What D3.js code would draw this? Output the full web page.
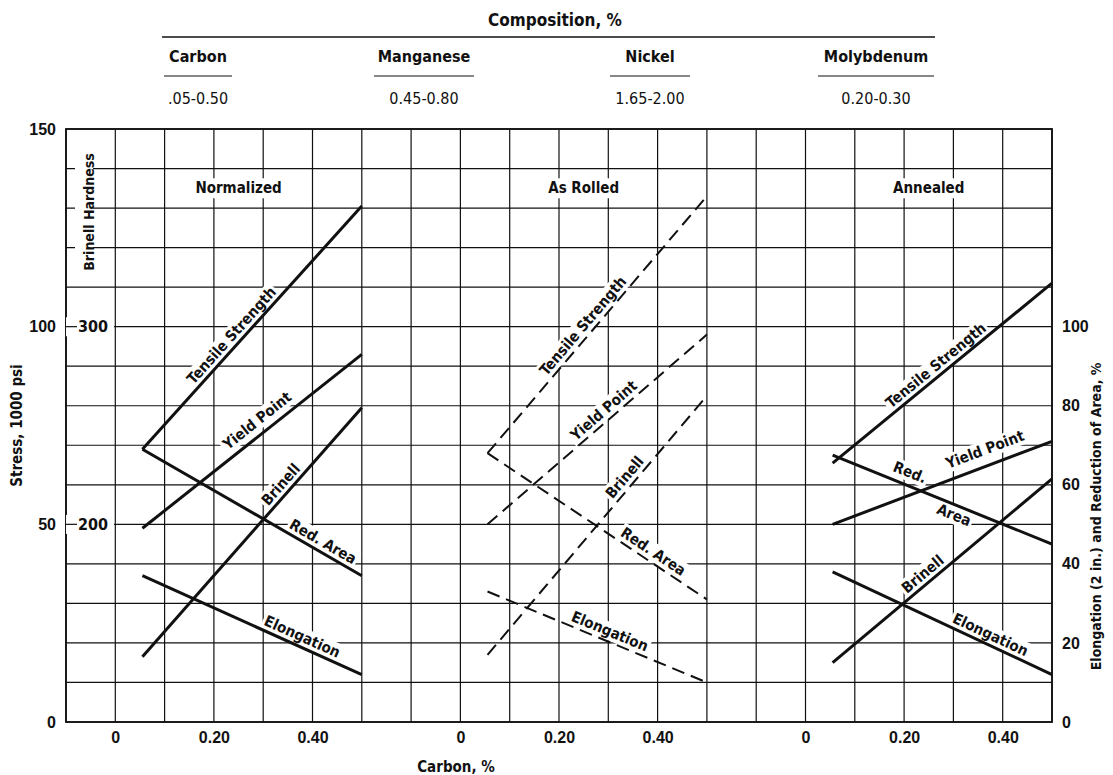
<!DOCTYPE html>
<html>
<head>
<meta charset="utf-8">
<script src="https://cdn.jsdelivr.net/npm/d3@7"></script>
<style>
  body { margin: 0; background: #fff; }
  svg { font-family: "Liberation Sans Narrow", "DejaVu Sans Condensed", "Roboto", sans-serif; font-weight: bold; }
  text { fill: #111; }
</style>
</head>
<body>
<div id="chart"></div>
<script>
// Data (stress in 1000 psi, Brinell in HB, elongation / red. area in %)
var panels = ["Normalized", "As Rolled", "Annealed"];
var panelDomains = [[-0.1, 0.5], [-0.2, 0.5], [-0.2, 0.5]];
var carbonRange = [0.055, 0.50];
var tensile    = [[69, 130.5], [68, 133], [65.5, 111]];
var yieldPoint = [[49, 93], [50, 98], [50, 71]];
var brinell    = [[133, 259], [134, 265], [130, 223]];
var redArea    = [[69, 37], [68, 31], [67.5, 45]];
var elongation = [[37, 12], [33, 10], [38, 12]];

var carbonTicks = [0, 0.20, 0.40];
var stressTicks = [0, 50, 100, 150];
var brinellTicks = [200, 300];
var pctTicks = [0, 20, 40, 60, 80, 100];

var elements = ["Carbon", "Manganese", "Nickel", "Molybdenum"];
var ranges = [".05-0.50", "0.45-0.80", "1.65-2.00", "0.20-0.30"];

// Canvas
var W = 1113, H = 775;
var plot = { left: 66, right: 1052, top: 129, bottom: 722 };

var svg = d3.select("#chart").append("svg")
    .attr("width", W)
    .attr("height", H);

var col = d3.scaleLinear().domain([0, 20]).range([plot.left, plot.right]);
var colSpans = [[0, 6], [6, 13], [13, 20]];
var xs = panelDomains.map(function(d, i) {
  return d3.scaleLinear().domain(d).range([col(colSpans[i][0]), col(colSpans[i][1])]);
});
var y = d3.scaleLinear().domain([0, 150]).range([plot.bottom, plot.top]);
var yPct = d3.scaleLinear().domain([0, 150]).range([plot.bottom, plot.top]);
var yHB = d3.scaleLinear().domain([100, 400]).range([plot.bottom, plot.top]);

// Header: composition table
var head = svg.append("g");
head.append("text").attr("x", 555).attr("y", 26).attr("text-anchor", "middle")
    .style("font-size", "17px").text("Composition,  %");
head.append("line").attr("x1", 162).attr("x2", 935).attr("y1", 37).attr("y2", 37)
    .attr("stroke", "#111").attr("stroke-width", 1.4);
var hx = d3.scalePoint().domain(elements).range([198, 876]);
var underW = { Carbon: 68, Manganese: 100, Nickel: 80, Molybdenum: 116 };
elements.forEach(function(e, i) {
  head.append("text").attr("x", hx(e)).attr("y", 62).attr("text-anchor", "middle")
      .style("font-size", "16px").text(e);
  head.append("line").attr("x1", hx(e) - underW[e] / 2).attr("x2", hx(e) + underW[e] / 2)
      .attr("y1", 76).attr("y2", 76).attr("stroke", "#111").attr("stroke-width", 1.1);
  head.append("text").attr("x", hx(e)).attr("y", 104).attr("text-anchor", "middle")
      .style("font-size", "16px").style("font-weight", "normal").text(ranges[i]);
});

// Grid
var grid = svg.append("g").attr("stroke", "#111").attr("stroke-width", 1.2);
grid.selectAll(".h").data(d3.range(0, 151, 10)).enter().append("line")
    .attr("x1", plot.left).attr("x2", plot.right)
    .attr("y1", function(d) { return y(d); }).attr("y2", function(d) { return y(d); });
grid.selectAll(".v").data(d3.range(0, 21)).enter().append("line")
    .attr("x1", function(d) { return col(d); }).attr("x2", function(d) { return col(d); })
    .attr("y1", plot.top).attr("y2", plot.bottom);
svg.append("rect").attr("x", plot.left).attr("y", plot.top)
    .attr("width", plot.right - plot.left).attr("height", plot.bottom - plot.top)
    .attr("fill", "none").attr("stroke", "#111").attr("stroke-width", 1.8);

// helper: text with white box behind it
function boxed(g, txt, size, anchor) {
  var t = g.append("text").attr("text-anchor", anchor || "middle")
      .style("font-size", size + "px").text(txt);
  var b = t.node().getBBox();
  g.insert("rect", "text").attr("x", b.x - 3).attr("y", b.y - 1)
      .attr("width", b.width + 6).attr("height", b.height + 2).attr("fill", "#fff");
  return t;
}

// Panel titles
panels.forEach(function(p, i) {
  var g = svg.append("g").attr("transform", "translate(" + xs[i](0.25) + "," + (y(135) + 5) + ")");
  boxed(g, p, 15);
});

// Brinell hardness axis (inside left)
var bl = svg.append("g").attr("transform", "translate(" + (plot.left + 23) + "," + y(129) + ") rotate(-90)");
boxed(bl, "Brinell Hardness", 14).attr("dy", "0.35em");
brinellTicks.forEach(function(b) {
  var g = svg.append("g").attr("transform", "translate(" + (plot.left + 12) + "," + yHB(b) + ")");
  var t = g.append("text").attr("dy", "0.35em").style("font-size", "16px").text(b);
  var bb = t.node().getBBox();
  g.insert("rect", "text").attr("x", -12).attr("y", bb.y).attr("width", bb.width + 18)
      .attr("height", bb.height).attr("fill", "#fff");
  g.append("line").attr("x1", -12).attr("x2", -1).attr("stroke", "#111").attr("stroke-width", 1.2);
});

// Left axis
var yAxis = svg.append("g").attr("transform", "translate(" + (plot.left - 8) + ",0)")
    .call(d3.axisLeft(y).tickValues(stressTicks).tickSize(0).tickPadding(2));
yAxis.select(".domain").remove();
yAxis.selectAll("text").style("font-size", "16px").style("font-family", null).style("font-weight", "bold");
svg.append("text").attr("transform", "translate(22," + ((plot.top + plot.bottom) / 2) + ") rotate(-90)")
    .attr("text-anchor", "middle").style("font-size", "15px").text("Stress, 1000 psi");

// Right axis
var rAxis = svg.append("g").attr("transform", "translate(" + (plot.right + 8) + ",0)")
    .call(d3.axisRight(yPct).tickValues(pctTicks).tickSize(0).tickPadding(2));
rAxis.select(".domain").remove();
rAxis.selectAll("text").style("font-size", "16px").style("font-family", null).style("font-weight", "bold");
svg.append("text").attr("transform", "translate(1101," + yPct(52) + ") rotate(-90)")
    .attr("text-anchor", "middle").style("font-size", "14px")
    .text("Elongation (2 in.) and Reduction of Area, %");

// Bottom axes
xs.forEach(function(x) {
  var a = svg.append("g").attr("transform", "translate(0," + (plot.bottom + 8) + ")")
      .call(d3.axisBottom(x).tickValues(carbonTicks).tickSize(0).tickPadding(2)
        .tickFormat(function(d) { return d === 0 ? "0" : d3.format(".2f")(d); }));
  a.select(".domain").remove();
  a.selectAll("text").style("font-size", "16px").style("font-family", null).style("font-weight", "bold");
});
svg.append("text").attr("x", 456).attr("y", 772).attr("text-anchor", "middle")
    .style("font-size", "15px").text("Carbon, %");

// Series
var series = [
  { key: "tensile",    data: tensile,    scale: y },
  { key: "yield",      data: yieldPoint, scale: y },
  { key: "brinell",    data: brinell,    scale: yHB },
  { key: "redArea",    data: redArea,    scale: yPct },
  { key: "elongation", data: elongation, scale: yPct }
];
var byKey = {};
series.forEach(function(s) { byKey[s.key] = s; });

function endPoints(key, p) {
  var s = byKey[key];
  return carbonRange.map(function(c, j) { return [xs[p](c), s.scale(s.data[p][j])]; });
}

// line labels (layout only)
var labels = [
  { p: 0, key: "tensile", text: "Tensile Strength", t: 0.44 },
  { p: 0, key: "yield", text: "Yield Point", t: 0.56, dy: -8 },
  { p: 0, key: "brinell", text: "Brinell", t: 0.665 },
  { p: 0, key: "redArea", text: "Red. Area", t: 0.8 },
  { p: 0, key: "elongation", text: "Elongation", t: 0.71 },
  { p: 1, key: "tensile", text: "Tensile Strength", t: 0.47 },
  { p: 1, key: "yield", text: "Yield Point", t: 0.56 },
  { p: 1, key: "brinell", text: "Brinell", t: 0.66 },
  { p: 1, key: "redArea", text: "Red. Area", t: 0.73 },
  { p: 1, key: "elongation", text: "Elongation", t: 0.54 },
  { p: 2, key: "tensile", text: "Tensile Strength", t: 0.5 },
  { p: 2, key: "yield", text: "Yield Point", t: 0.72, dy: -11 },
  { p: 2, key: "brinell", text: "Brinell", t: 0.44 },
  { p: 2, key: "redArea", text: "Red.", t: 0.33, dy: -8 },
  { p: 2, key: "redArea", text: "Area", t: 0.57, dy: 15 },
  { p: 2, key: "elongation", text: "Elongation", t: 0.7 }
];

var labelLayer = svg.append("g");
labels.forEach(function(l) {
  var e = endPoints(l.key, l.p);
  var ang = Math.atan2(e[1][1] - e[0][1], e[1][0] - e[0][0]) * 180 / Math.PI;
  var px = e[0][0] + l.t * (e[1][0] - e[0][0]);
  var py = e[0][1] + l.t * (e[1][1] - e[0][1]);
  var g = labelLayer.append("g").attr("transform", "translate(" + px + "," + py + ") rotate(" + ang + ")");
  boxed(g, l.text, 15).attr("y", l.dy == null ? -5 : l.dy);
  // re-fit box after moving text
  var b = g.select("text").node().getBBox();
  g.select("rect").attr("x", b.x - 2).attr("y", b.y).attr("width", b.width + 4).attr("height", b.height);
});

var lineLayer = svg.append("g").attr("fill", "none").attr("stroke", "#111");
panels.forEach(function(p, i) {
  series.forEach(function(s) {
    var e = endPoints(s.key, i);
    lineLayer.append("path")
        .attr("d", d3.line()(e))
        .attr("stroke-width", i === 1 ? 2 : 3)
        .attr("stroke-dasharray", i === 1 ? "13,7" : null);
  });
});
</script>
</body>
</html>
